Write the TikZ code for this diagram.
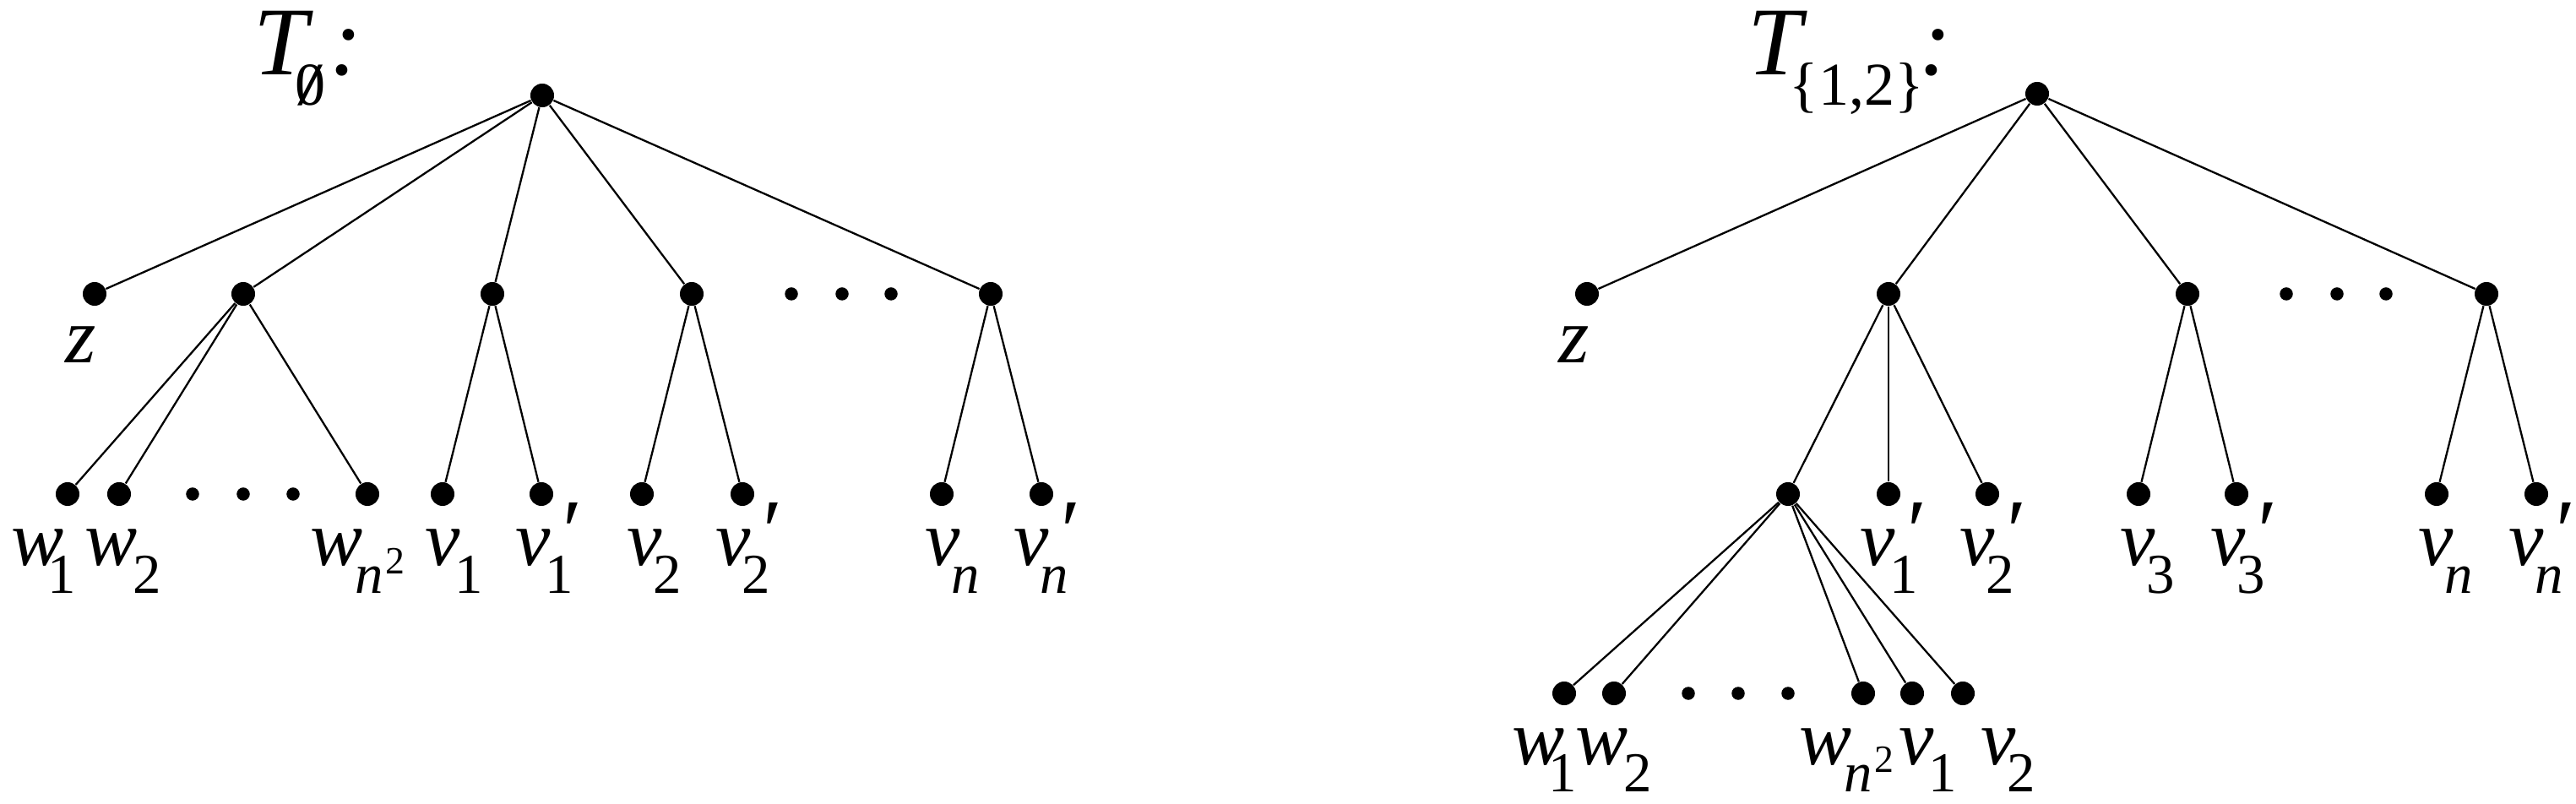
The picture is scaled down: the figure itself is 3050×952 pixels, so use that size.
\documentclass[tikz,border=0pt]{standalone}
\usepackage{graphicx}
\usepackage{fontspec}
\setmainfont{Liberation Serif}
\newcommand\sbs[1]{\raisebox{-9.1pt}{\fontsize{19}{19}\selectfont\upshape #1}}
\newcommand\sbn{\sbs{\itshape n}}
\newcommand\sbnsq{\sbs{\itshape n\kern0.8pt\raisebox{6.5pt}{\fontsize{13}{13}\selectfont\upshape 2}}}
\newcommand\prm{\rlap{\kern4pt\raisebox{1.5pt}{\fontsize{30}{30}\selectfont\upshape ′}}}
\begin{document}
\begin{tikzpicture}[x=0.01cm,y=-0.01cm,
  dot/.style={circle,fill=black,inner sep=0pt,minimum size=0.28cm},
  sdot/.style={circle,fill=black,inner sep=0pt,minimum size=0.155cm},
  edge/.style={line width=0.65pt},
  lbl/.style={anchor=base west,inner sep=0pt,font=\fontsize{26.5}{30}\selectfont\itshape},
  ttl/.style={anchor=base west,inner sep=0pt,font=\fontsize{32.7}{36}\selectfont\itshape}]
\useasboundingbox (0,0) rectangle (3050,952);

% ---------- left tree ----------
\node[ttl] (tl) at (300,89) {T\kern-4.3pt\raisebox{-10pt}{\fontsize{20.5}{20.5}\selectfont\upshape\ooalign{0\cr\hidewidth\scalebox{1.5}[1]{/}\hidewidth\cr}}\kern1.5pt:};

\node[dot] (Lr) at (642,113) {};
\node[dot] (Lz) at (112,348) {};
\node[dot] (LA) at (288,348) {};
\node[dot] (LB) at (583,348) {};
\node[dot] (LC) at (819,348) {};
\node[sdot] (Ld1) at (937,348) {};
\node[sdot] (Ld2) at (997,348) {};
\node[sdot] (Ld3) at (1055,348) {};
\node[dot] (LD) at (1173,348) {};

\node[dot] (Lw1) at (80,585) {};
\node[dot] (Lw2) at (141,585) {};
\node[sdot] (Le1) at (228,585) {};
\node[sdot] (Le2) at (288,585) {};
\node[sdot] (Le3) at (347,585) {};
\node[dot] (Lwn) at (435,585) {};
\node[dot] (Lv1) at (524,585) {};
\node[dot] (Lv1p) at (641,585) {};
\node[dot] (Lv2) at (760,585) {};
\node[dot] (Lv2p) at (879,585) {};
\node[dot] (Lvn) at (1115,585) {};
\node[dot] (Lvnp) at (1233,585) {};

\foreach \c in {Lz,LA,LB,LC,LD} \draw[edge] (Lr) -- (\c);
\foreach \c in {Lw1,Lw2,Lwn} \draw[edge] (LA) -- (\c);
\foreach \c in {Lv1,Lv1p} \draw[edge] (LB) -- (\c);
\foreach \c in {Lv2,Lv2p} \draw[edge] (LC) -- (\c);
\foreach \c in {Lvn,Lvnp} \draw[edge] (LD) -- (\c);

\node[lbl] (lzl) at (77,430) {z};
\node[lbl] (lw1) at (13,670) {w\kern-5.5pt\sbs{1}};
\node[lbl] (lw2) at (100,670) {w\kern-1.5pt\sbs{2}};
\node[lbl] (lwn) at (367,670) {w\kern-2.8pt\sbnsq};
\node[lbl] (lv1) at (503,670) {v\kern-2pt\sbs{1}};
\node[lbl] (lv1p) at (610,670) {v\prm\kern-2pt\sbs{1}};
\node[lbl] (lv2) at (742,670) {v\kern-3pt\sbs{2}};
\node[lbl] (lv2p) at (847,670) {v\prm\kern-3pt\sbs{2}};
\node[lbl] (lvn) at (1095,670) {v\kern-3pt\sbn};
\node[lbl] (lvnp) at (1200,670) {v\prm\kern-3pt\sbn};

% ---------- right tree ----------
\node[ttl] (tr) at (2069,89) {T\kern-4.3pt\raisebox{-10pt}{\fontsize{20.5}{20.5}\selectfont\upshape\{1,2\}}\kern-1.5pt:};

\node[dot] (Rr) at (2412,111) {};
\node[dot] (Rz) at (1879,348) {};
\node[dot] (RA) at (2236,348) {};
\node[dot] (RB) at (2590,348) {};
\node[sdot] (Rd1) at (2707,348) {};
\node[sdot] (Rd2) at (2767,348) {};
\node[sdot] (Rd3) at (2825,348) {};
\node[dot] (RD) at (2944,348) {};

\node[dot] (RS) at (2117,585) {};
\node[dot] (Rv1p) at (2236,585) {};
\node[dot] (Rv2p) at (2353,585) {};
\node[dot] (Rv3) at (2532,585) {};
\node[dot] (Rv3p) at (2648,585) {};
\node[dot] (Rvn) at (2885,585) {};
\node[dot] (Rvnp) at (3003,585) {};

\node[dot] (Rw1) at (1852,821) {};
\node[dot] (Rw2) at (1911,821) {};
\node[sdot] (Re1) at (1999,821) {};
\node[sdot] (Re2) at (2058,821) {};
\node[sdot] (Re3) at (2117,821) {};
\node[dot] (Rwn) at (2206,821) {};
\node[dot] (Rv1) at (2264,821) {};
\node[dot] (Rv2) at (2324,821) {};

\foreach \c in {Rz,RA,RB,RD} \draw[edge] (Rr) -- (\c);
\foreach \c in {RS,Rv1p,Rv2p} \draw[edge] (RA) -- (\c);
\foreach \c in {Rv3,Rv3p} \draw[edge] (RB) -- (\c);
\foreach \c in {Rvn,Rvnp} \draw[edge] (RD) -- (\c);
\foreach \c in {Rw1,Rw2,Rwn,Rv1,Rv2} \draw[edge] (RS) -- (\c);

\node[lbl] (rzl) at (1845,430) {z};
\node[lbl] (rv1p) at (2202,670) {v\prm\kern-2pt\sbs{1}};
\node[lbl] (rv2p) at (2320,670) {v\prm\kern-3pt\sbs{2}};
\node[lbl] (rv3) at (2510,670) {v\kern-3pt\sbs{3}};
\node[lbl] (rv3p) at (2617,670) {v\prm\kern-3pt\sbs{3}};
\node[lbl] (rvn) at (2863,670) {v\kern-3pt\sbn};
\node[lbl] (rvnp) at (2970,670) {v\prm\kern-3pt\sbn};

\node[lbl] (rw1) at (1790,905) {w\kern-5.5pt\sbs{1}};
\node[lbl] (rw2) at (1865,905) {w\kern-1.5pt\sbs{2}};
\node[lbl] (rwn) at (2130,905) {w\kern-2.8pt\sbnsq};
\node[lbl] (rv1) at (2248,905) {v\kern-2pt\sbs{1}};
\node[lbl] (rv2) at (2345,905) {v\kern-3pt\sbs{2}};
\end{tikzpicture}
\end{document}
